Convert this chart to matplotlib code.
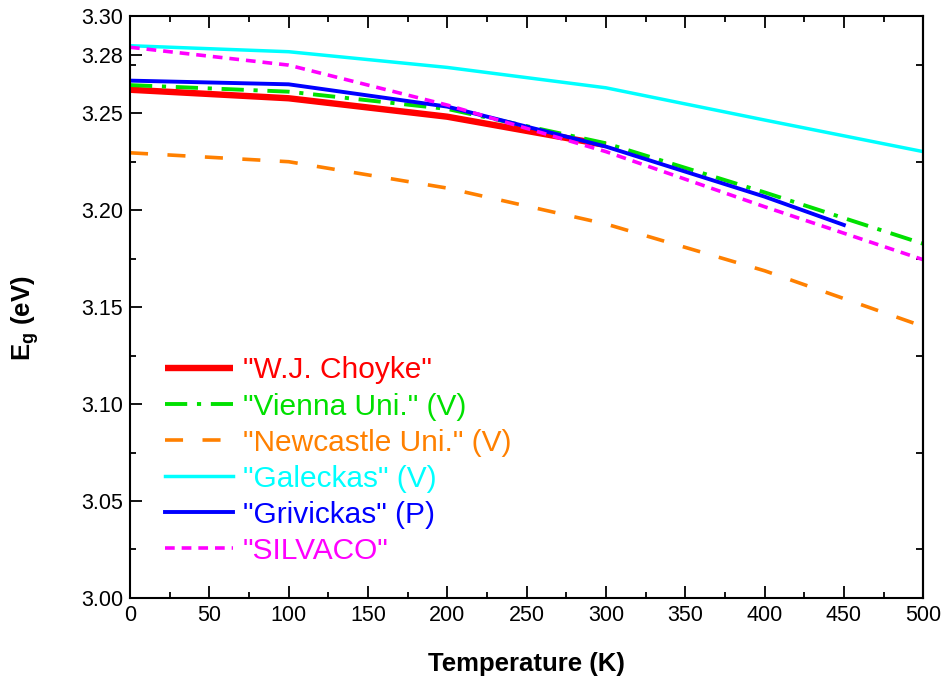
import matplotlib
matplotlib.use('Agg')
import matplotlib.pyplot as plt
import numpy as np

plt.rcParams['font.family'] = ['Liberation Sans', 'DejaVu Sans']
plt.rcParams['mathtext.fontset'] = 'custom'
plt.rcParams['mathtext.rm'] = 'Liberation Sans'
plt.rcParams['mathtext.bf'] = 'Liberation Sans:bold'
plt.rcParams['lines.scale_dashes'] = False

# Temperatur (K) und Bandlücke (eV)
T = [0, 100, 200, 300, 400, 500]
T_choyke = [0, 100, 200, 300]
T_grivickas = [0, 100, 200, 300, 400, 450]

eg_choyke = [3.2620, 3.2576, 3.2481, 3.2335]
eg_vienna = [3.2644, 3.2610, 3.2521, 3.2344, 3.2091, 3.1826]
eg_newcastle = [3.2295, 3.2249, 3.2113, 3.1928, 3.1687, 3.1400]
eg_galeckas = [3.2847, 3.2816, 3.2735, 3.2630, 3.2464, 3.2301]
eg_grivickas = [3.2667, 3.2648, 3.2533, 3.2327, 3.2069, 3.1923]
eg_silvaco = [3.2839, 3.2747, 3.2541, 3.2301, 3.2017, 3.1744]

labels = ['"W.J. Choyke"', '"Vienna Uni." (V)', '"Newcastle Uni." (V)',
          '"Galeckas" (V)', '"Grivickas" (P)', '"SILVACO"']
colors = ['#FF0000', '#00E000', '#FF8000', '#00FFFF', '#0000FF', '#FF00FF']

yticks = [3.00, 3.05, 3.10, 3.15, 3.20, 3.25, 3.28, 3.30]
yminor = [3.025, 3.075, 3.125, 3.175, 3.225, 3.275]

fig = plt.figure(figsize=(9.42, 6.79), dpi=100)
ax = fig.add_axes([0.138, 0.1193, 0.842, 0.8571])

ax.plot(T_choyke, eg_choyke, color=colors[0], lw=4.6, solid_capstyle='butt',
        label=labels[0])
ax.plot(T, eg_vienna, color=colors[1], lw=2.8, dashes=(16, 7, 3, 7),
        label=labels[1])
ax.plot(T, eg_newcastle, color=colors[2], lw=2.6, dashes=(13, 14),
        label=labels[2])
ax.plot(T, eg_galeckas, color=colors[3], lw=2.5, label=labels[3])
ax.plot(T_grivickas, eg_grivickas, color=colors[4], lw=2.8, label=labels[4])
ax.plot(T, eg_silvaco, color=colors[5], lw=2.6, dashes=(7, 5),
        label=labels[5])

ax.set_xlim(0, 500)
ax.set_ylim(3.00, 3.30)
ax.set_xticks(np.arange(0, 501, 50))
ax.set_xticks(np.arange(25, 500, 50), minor=True)
ax.set_yticks(yticks)
ax.set_yticklabels(['%.2f' % v for v in yticks])
ax.set_yticks(yminor, minor=True)

ax.tick_params(which='both', direction='in', top=True, right=False,
               width=1.3, labelsize=15.5)
ax.tick_params(which='major', length=8.5, pad=5)
ax.tick_params(which='minor', length=4.5)
for s in ax.spines.values():
    s.set_linewidth(1.5)

# rechte Achse: nur Zwischenmarken
sec = ax.secondary_yaxis('right')
sec.set_yticks(yminor)
sec.set_yticklabels([])
sec.tick_params(direction='in', length=5, width=1.3)
sec.spines['right'].set_linewidth(1.5)

ax.set_xlabel('Temperature (K)', fontsize=18.5, fontweight='bold')
ax.set_ylabel(r'E$_\mathbf{g}$ (eV)', fontsize=18.5, fontweight='bold')
ax.xaxis.set_label_coords(0.5, -0.093)
ax.yaxis.set_label_coords(-0.112, 0.481)

leg = ax.legend(loc='upper left', bbox_to_anchor=(0.044, 0.415), frameon=False,
                fontsize=21.5, handlelength=2.27, handletextpad=0.33,
                labelspacing=0.27, borderpad=0, borderaxespad=0)
for txt, c in zip(leg.get_texts(), colors):
    txt.set_color(c)

fig.savefig('out.png', dpi=100)
